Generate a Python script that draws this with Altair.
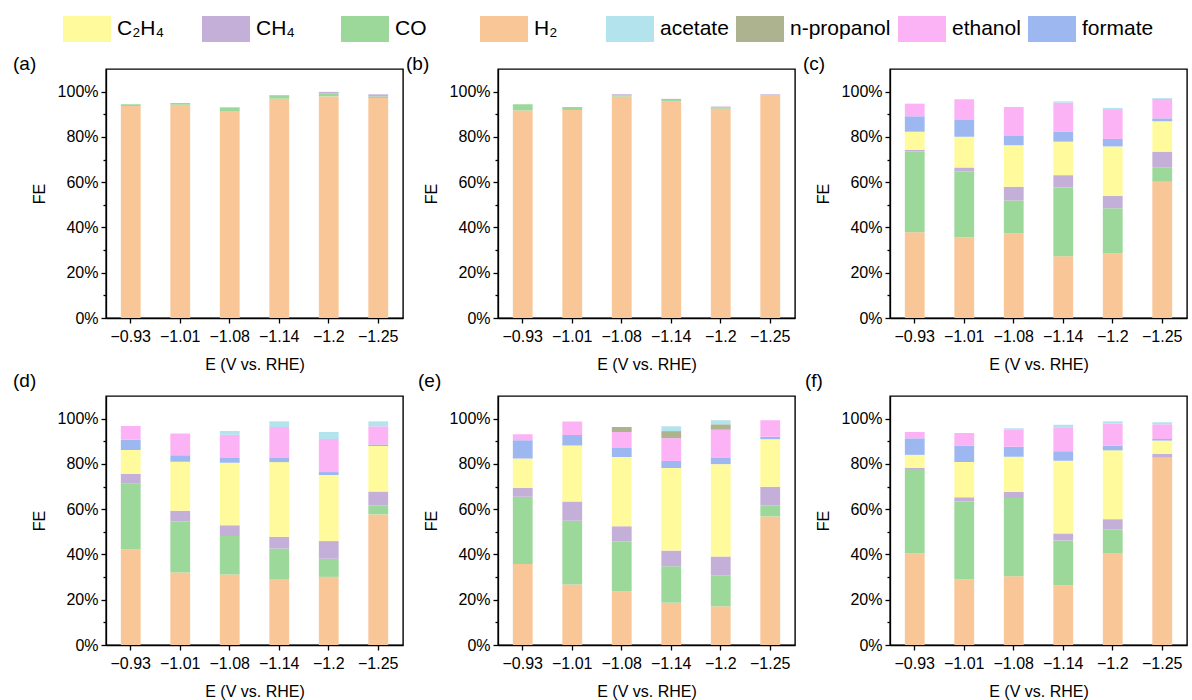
import altair as alt
import pandas as pd

# Applied potentials (x categories) and panel keys
potentials = ["−0.93", "−1.01", "−1.08", "−1.14", "−1.2", "−1.25"]
panel_keys = ["a", "b", "c", "d", "e", "f"]

# Faradaic efficiencies (%) per product, per panel, per potential
fe_H2 = {
    "a": [93.7, 94.2, 91.4, 96.9, 97.9, 97.2],
    "b": [91.7, 91.9, 97.9, 95.9, 92.5, 98.2],
    "c": [37.9, 35.7, 37.3, 27.3, 28.5, 60.2],
    "d": [42.2, 32.0, 31.1, 28.9, 30.1, 57.7],
    "e": [35.8, 26.7, 23.6, 18.7, 17.1, 56.8],
    "f": [40.4, 29.1, 30.4, 26.4, 40.4, 82.6],
}
fe_CO = {
    "a": [0.7, 0.8, 1.5, 1.3, 1.2, 0.7],
    "b": [2.7, 1.3, 0.4, 0.4, 0.4, 0.3],
    "c": [35.8, 29.0, 14.6, 30.5, 20.0, 6.2],
    "d": [29.0, 22.6, 17.1, 13.7, 8.0, 4.0],
    "e": [29.7, 28.2, 22.1, 16.1, 13.7, 4.9],
    "f": [37.3, 34.3, 34.5, 19.8, 10.6, 0.3],
}
fe_CH4 = {
    "a": [0.0, 0.0, 0.2, 0.3, 0.8, 0.9],
    "b": [0.0, 0.0, 0.5, 0.5, 0.5, 0.3],
    "c": [0.6, 1.8, 6.1, 5.3, 5.5, 7.1],
    "d": [4.3, 4.7, 4.7, 5.2, 7.8, 6.1],
    "e": [4.0, 8.5, 6.8, 6.9, 8.3, 8.2],
    "f": [0.5, 1.9, 2.7, 3.1, 4.6, 1.6],
}
fe_C2H4 = {
    "c": [8.0, 13.6, 18.3, 14.8, 21.8, 13.4],
    "d": [10.6, 21.7, 27.6, 33.0, 29.2, 20.1],
    "e": [12.9, 24.7, 30.5, 36.5, 40.8, 21.0],
    "f": [5.8, 15.5, 15.6, 32.1, 30.4, 5.8],
}
fe_formate = {
    "c": [6.8, 7.4, 4.1, 4.3, 3.3, 1.3],
    "d": [4.6, 2.8, 2.1, 2.1, 1.3, 0.7],
    "e": [8.0, 4.7, 4.0, 3.1, 2.7, 1.1],
    "f": [7.3, 7.3, 4.4, 4.2, 2.1, 0.7],
}
fe_ethanol = {
    "c": [5.6, 9.1, 12.8, 12.9, 12.8, 8.6],
    "d": [6.1, 9.6, 10.3, 13.4, 14.6, 8.0],
    "e": [2.7, 5.9, 7.1, 10.1, 12.5, 7.3],
    "f": [2.8, 5.6, 7.5, 10.6, 9.8, 6.5],
}
fe_propanol = {
    "e": [0.0, 0.0, 2.2, 3.1, 2.4, 0.0],
}
fe_acetate = {
    "c": [0.0, 0.0, 0.0, 0.6, 0.9, 0.4],
    "d": [0.0, 0.0, 1.6, 2.5, 3.1, 2.2],
    "e": [0.0, 0.0, 0.0, 2.1, 1.8, 0.0],
    "f": [0.0, 0.0, 0.6, 1.1, 0.9, 0.9],
}

# Stacking order, bottom to top
stack_order = [
    ("H₂", fe_H2), ("CO", fe_CO), ("CH₄", fe_CH4), ("C₂H₄", fe_C2H4),
    ("formate", fe_formate), ("ethanol", fe_ethanol),
    ("n-propanol", fe_propanol), ("acetate", fe_acetate),
]

gas_names = ["C₂H₄", "CH₄", "CO", "H₂"]
gas_colors = ["#FFFB9C", "#C4AFD8", "#9DD89B", "#F9C797"]
liquid_names = ["acetate", "n-propanol", "ethanol", "formate"]
liquid_colors = ["#B3E3EC", "#ADB38E", "#FCB3F5", "#9DB8F0"]

rows = []
for key in panel_keys:
    for order, (name, series) in enumerate(stack_order):
        values = series.get(key)
        if values is None:
            continue
        for e, v in zip(potentials, values):
            if v > 0:
                rows.append({"panel": key, "product": name, "order": order, "E": e, "fe": v})
df = pd.DataFrame(rows)

FONT = "Liberation Sans"

x_enc = alt.X(
    "E:N", sort=potentials,
    scale=alt.Scale(paddingInner=0.6, paddingOuter=0.3),
    axis=alt.Axis(title="E (V vs. RHE)", labelAngle=0),
)
y_enc = alt.Y(
    "y0:Q",
    scale=alt.Scale(domain=[0, 110], nice=False),
    axis=alt.Axis(
        title="FE",
        values=list(range(0, 101, 10)),
        labelExpr="datum.value % 20 == 0 ? datum.value + '%' : ''",
        tickSize={"condition": {"test": "datum.value % 20 != 0", "value": 3}, "value": 5},
        labelOverlap=False,
    ),
)

legend_common = dict(
    title=None, orient="none", direction="horizontal", columns=4,
    symbolType="M-1,-0.54H1V0.54H-1Z", symbolSize=2304, symbolStrokeWidth=0,
    labelFontSize=21, labelFont=FONT, labelColor="black", labelOffset=6,
    labelLimit=0,
)


def panel(key, label_dx, label_dy):
    gas = alt.Chart().mark_bar().encode(
        x=x_enc, y=y_enc, y2="y1:Q",
        color=alt.Color(
            "product:N",
            scale=alt.Scale(domain=gas_names, range=gas_colors),
            legend=alt.Legend(legendX=-43, legendY=-64, columnPadding=37,
                              gridAlign="all", **legend_common),
        ),
    ).transform_filter(alt.FieldOneOfPredicate(field="product", oneOf=gas_names))

    liquid = alt.Chart().mark_bar().encode(
        x=x_enc, y=y_enc, y2="y1:Q",
        fill=alt.Fill(
            "product:N",
            scale=alt.Scale(domain=liquid_names, range=liquid_colors),
            legend=alt.Legend(legendX=500, legendY=-64, columnPadding=7, **legend_common),
        ),
    ).transform_filter(alt.FieldOneOfPredicate(field="product", oneOf=liquid_names))

    return alt.layer(gas, liquid, data=df).transform_filter(
        alt.datum.panel == key
    ).transform_stack(
        stack="fe", groupby=["E"], sort=[alt.SortField("order", order="ascending")],
        as_=["y0", "y1"],
    ).properties(
        width=297, height=249,
        title=alt.TitleParams(
            f"({key})", anchor="start", frame="group", dx=label_dx, dy=label_dy, offset=0,
            baseline="alphabetic", fontSize=19, font=FONT, fontWeight="normal", color="black",
        ),
    )


charts = [
    panel("a", -93, 20), panel("b", -92, 20), panel("c", -87, 20),
    panel("d", -93, 10), panel("e", -80, 10), panel("f", -85, 10),
]

chart = alt.concat(
    *charts, columns=3, spacing={"row": 78, "column": 95}, bounds="flush",
).properties(
    padding={"left": 12, "top": 5, "right": 4, "bottom": 4},
    background="white",
).configure_axis(
    labelFont=FONT, titleFont=FONT, labelFontSize=16, titleFontSize=16,
    titleFontWeight="normal", labelColor="black", titleColor="black",
    domainColor="black", tickColor="black", domainWidth=1.3, tickWidth=1.3,
    grid=False, labelPadding=3,
).configure_axisX(
    tickSize=5, labelPadding=5, titlePadding=12,
).configure_axisY(
    titlePadding=10,
).configure_view(
    stroke="black", strokeWidth=1.4,
)

chart.save("out.html", embed_options={"renderer": "svg", "actions": False})
